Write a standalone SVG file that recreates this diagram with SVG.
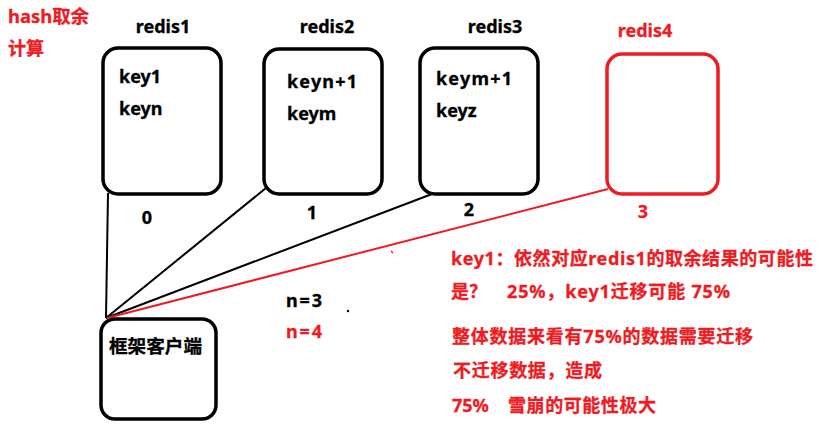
<svg xmlns="http://www.w3.org/2000/svg" width="827" height="446" viewBox="0 0 827 446">
<style>
text{font-family:"Noto Sans","Noto Sans CJK SC",sans-serif;font-weight:bold;font-size:18px;fill:#000;stroke:#000;stroke-width:0.3}
.r{fill:#ed1c24;stroke:#ed1c24}
.box{fill:#fff;stroke:#000;stroke-width:3.5}
.rbox{fill:#fff;stroke:#ed1c24;stroke-width:3.5}
.ln{stroke:#000;stroke-width:2;fill:none}
.rln{stroke:#ed1c24;stroke-width:2;fill:none}
</style>
<rect width="827" height="446" fill="#fff"/>
<g id="title">
<text class="r" x="8" y="23" textLength="81" lengthAdjust="spacingAndGlyphs">hash取余</text>
<text class="r" x="8" y="55" font-size="19">计算</text>
</g>
<g id="connectors">
<line class="ln" x1="108" y1="193" x2="106" y2="318"/>
<line class="ln" x1="266" y1="188" x2="106" y2="318"/>
<line class="ln" x1="432" y1="194" x2="106" y2="318"/>
<line class="rln" x1="608" y1="189" x2="107" y2="318"/>
</g>
<g id="redis1">
<rect class="box" x="103" y="48" width="118" height="146" rx="15"/>
<text x="163" y="33" text-anchor="middle">redis1</text>
<text x="119" y="83">key1</text>
<text x="119" y="115">keyn</text>
<text x="147" y="224" text-anchor="middle">0</text>
</g>
<g id="redis2">
<rect class="box" x="264" y="49" width="118" height="145" rx="15"/>
<text x="327" y="33" text-anchor="middle">redis2</text>
<text x="287" y="88" textLength="70" lengthAdjust="spacing">keyn+1</text>
<text x="287" y="120">keym</text>
<text x="312" y="219" text-anchor="middle">1</text>
</g>
<g id="redis3">
<rect class="box" x="420" y="48" width="118" height="146" rx="15"/>
<text x="495" y="33" text-anchor="middle">redis3</text>
<text x="436" y="85" textLength="76" lengthAdjust="spacing">keym+1</text>
<text x="436" y="117">keyz</text>
<text x="469" y="216" text-anchor="middle">2</text>
</g>
<g id="redis4">
<rect class="rbox" x="607" y="54" width="111" height="140" rx="15"/>
<text class="r" x="645" y="37" text-anchor="middle">redis4</text>
<text class="r" x="643" y="218" text-anchor="middle">3</text>
</g>
<g id="client">
<rect class="box" x="101" y="319" width="115" height="100" rx="14"/>
<text x="109" y="353" textLength="93" lengthAdjust="spacingAndGlyphs">框架客户端</text>
</g>
<g id="notes">
<text x="286" y="307" textLength="36" lengthAdjust="spacing">n=3</text>
<text class="r" x="286" y="338" textLength="36" lengthAdjust="spacing">n=4</text>
<circle cx="348" cy="311" r="1.2" fill="#000"/>
<line x1="391" y1="251" x2="393" y2="253" stroke="#ed1c24" stroke-width="1.2"/>
<text class="r" x="451" y="265" textLength="362" lengthAdjust="spacing">key1：依然对应redis1的取余结果的可能性</text>
<text class="r" x="451" y="298">是？</text>
<text class="r" x="507" y="298" textLength="223" lengthAdjust="spacing">25%，key1迁移可能 75%</text>
<text class="r" x="452" y="343" textLength="301" lengthAdjust="spacing">整体数据来看有75%的数据需要迁移</text>
<text class="r" x="453" y="377" textLength="149" lengthAdjust="spacing">不迁移数据，造成</text>
<text class="r" x="452" y="412">75%</text>
<text class="r" x="508" y="412" textLength="148" lengthAdjust="spacing">雪崩的可能性极大</text>
</g>
</svg>
